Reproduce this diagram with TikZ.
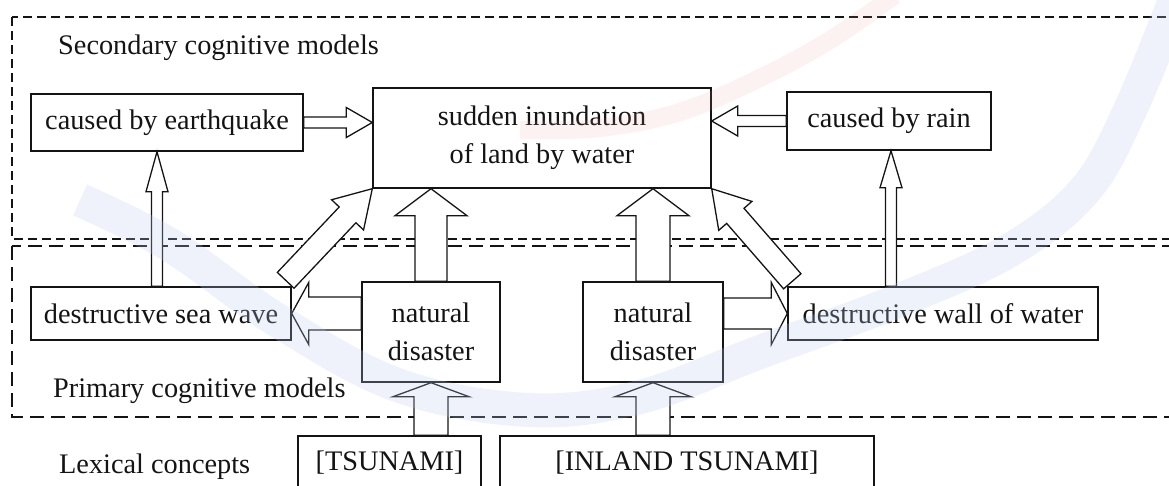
\documentclass[tikz,border=0pt]{standalone}
\usepackage{fontspec}
\setmainfont{Liberation Serif}
\usetikzlibrary{calc}

\newcommand\labelfont{\fontsize{28.3}{38}\selectfont}
\definecolor{wmblue}{RGB}{190,205,236}
\definecolor{wmred}{RGB}{238,150,150}
\definecolor{ink}{RGB}{20,20,20}

\tikzset{
  box/.style={draw=ink, line width=1.4pt, fill=white, inner sep=0pt,
              align=center, font=\labelfont, text=ink},
  blockarrow/.style={draw=ink, line width=1.3pt, fill=white, line join=miter},
  frameupper/.style={draw=ink, line width=1.2pt, dash pattern=on 9pt off 5pt},
  framelower/.style={draw=ink, line width=1.6pt, dash pattern=on 14pt off 7pt},
  caption/.style={font=\labelfont, text=ink, inner sep=0pt, anchor=base west},
}

% hollow block arrow: #1 tail, #2 tip, #3 shaft width, #4 head width, #5 head length
\newcommand\blockarrow[5]{%
  \path (#1) coordinate (ba-tail) (#2) coordinate (ba-tip);
  \path ($(ba-tip)!#5!(ba-tail)$) coordinate (ba-base);
  \draw[blockarrow]
    ($(ba-tail)!#3/2!90:(ba-tip)$) -- ($(ba-base)!#3/2!90:(ba-tip)$)
    -- ($(ba-base)!#4/2!90:(ba-tip)$) -- (ba-tip)
    -- ($(ba-base)!#4/2!-90:(ba-tip)$) -- ($(ba-base)!#3/2!-90:(ba-tip)$)
    -- ($(ba-tail)!#3/2!-90:(ba-tip)$) -- cycle;
}

\begin{document}
\begin{tikzpicture}[x=1pt, y=-1pt]
\useasboundingbox (0,0) rectangle (1169,486);
\clip (0,0) rectangle (1169,486);

% model layers
\draw[frameupper] (12,17) rectangle (1200,239);
\draw[framelower] (12,246) rectangle (1200,417);

\node[caption] (seclabel) at (58,55) {Secondary cognitive models};
\node[caption] (primlabel) at (53,397) {Primary cognitive models};
\node[caption] (lexlabel) at (59,473) {Lexical concepts};

% secondary cognitive models
\node[box, minimum width=272pt, minimum height=57pt] (cbe) at (167,122.5) {caused by earthquake};
\node[box, minimum width=338pt, minimum height=100pt] (sud) at (542,138) {sudden inundation\\of land by water};
\node[box, minimum width=204pt, minimum height=58pt] (cbr) at (889,121) {caused by rain};

% primary cognitive models
\node[box, minimum width=260pt, minimum height=53pt] (sea) at (161,313.5) {destructive sea wave};
\node[box, minimum width=138pt, minimum height=100pt] (nd1) at (431,332) {natural\\disaster};
\node[box, minimum width=140pt, minimum height=100pt] (nd2) at (653,332) {natural\\disaster};
\node[box, minimum width=310pt, minimum height=53pt] (wall) at (943,313.5) {destructive wall of water};

% lexical concepts
\node[box, minimum width=183pt, minimum height=54pt] (ts) at (389.5,463) {[TSUNAMI]};
\node[box, minimum width=374pt, minimum height=54pt] (its) at (687,463) {[INLAND TSUNAMI]};

% connectors
\coordinate (seatop) at ($(sea.north)+(-4,0)$);
\coordinate (walltop) at ($(wall.north -| cbr.south)+(2,0)$);
\coordinate (seacorner) at ($(sea.north east)+(-6,-6)$);
\coordinate (wallcorner) at ($(wall.north west)+(5,-5)$);

\blockarrow{cbe.east}{sud.west |- cbe.east}{11pt}{30pt}{26pt}
\blockarrow{cbr.west}{sud.east |- cbr.west}{11pt}{30pt}{26pt}
\blockarrow{seatop}{cbe.south -| seatop}{11pt}{22pt}{40pt}
\blockarrow{walltop}{cbr.south -| walltop}{11pt}{22pt}{37pt}
\blockarrow{nd1.north}{sud.south -| nd1.north}{32pt}{72pt}{27pt}
\blockarrow{nd2.north}{sud.south -| nd2.north}{34pt}{72pt}{27pt}
\blockarrow{ts.north -| nd1.south}{nd1.south}{34pt}{76pt}{14pt}
\blockarrow{its.north -| nd2.south}{nd2.south}{34pt}{76pt}{14pt}
\blockarrow{nd1.west |- sea.east}{sea.east}{33pt}{62pt}{17pt}
\blockarrow{nd2.east |- wall.west}{wall.west}{31pt}{62pt}{16pt}
\blockarrow{seacorner}{sud.south west}{23pt}{44pt}{36pt}
\blockarrow{wallcorner}{sud.south east}{23pt}{44pt}{36pt}

% faint swooshes laid over the whole sheet
\draw[wmblue, opacity=0.25, line width=34pt] plot[smooth, tension=0.6] coordinates
  {(80,200) (170,245) (280,322) (400,386) (530,410) (640,397) (760,352) (900,300) (1010,250) (1085,190) (1130,110) (1175,0)};
\draw[wmred, opacity=0.12, line width=18pt] plot[smooth, tension=0.6] coordinates
  {(520,130) (600,128) (680,112) (760,78) (830,40) (895,-5)};
\end{tikzpicture}
\end{document}
